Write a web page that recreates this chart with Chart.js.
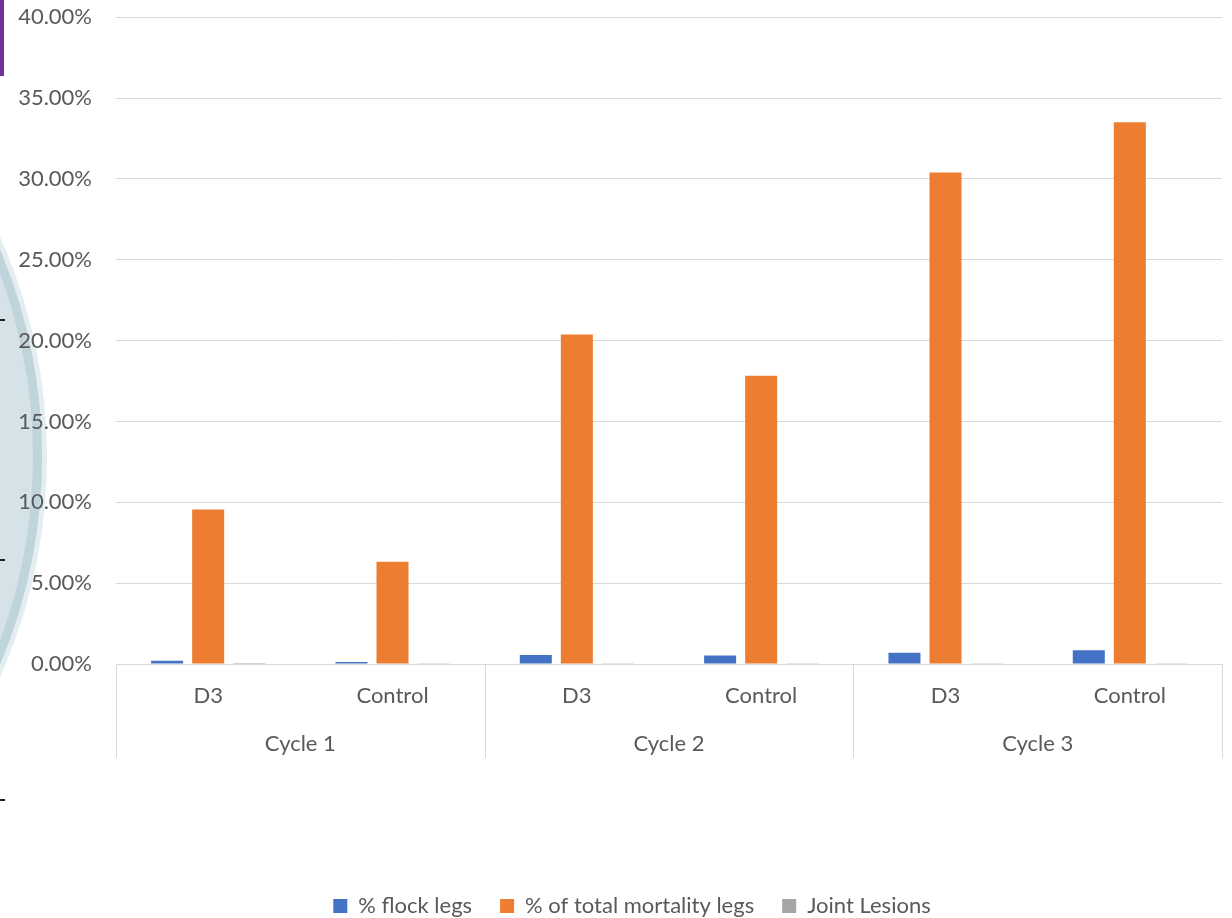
<!DOCTYPE html>
<html>
<head>
<meta charset="utf-8">
<script src="https://cdn.jsdelivr.net/npm/chart.js@4.4.1/dist/chart.umd.min.js"></script>
<style>
  html, body { margin: 0; padding: 0; background: #fff; }
  #wrap { position: relative; width: 1232px; height: 918px; overflow: hidden; }
  /* fond de diapositive derrière le graphique */
  .cercle { position: absolute; left: -1026px; top: -77px; width: 1068px; height: 1068px; border-radius: 50%;
            background: #d5e3e8; box-shadow: inset 0 0 0 9px #c0d4db, 0 0 0 5px #e4edf0; }
  .barre { position: absolute; left: 0; top: 0; width: 4px; height: 76px; background: #7030a0; }
  .tiret { position: absolute; left: 0; width: 5px; height: 2px; background: #222; }
  canvas { position: absolute; left: 0; top: -20px; }
</style>
</head>
<body>
<div id="wrap">
  <div class="cercle"></div>
  <div class="barre"></div>
  <div class="tiret" style="top:319px"></div>
  <div class="tiret" style="top:559px"></div>
  <div class="tiret" style="top:799px"></div>
  <canvas id="grafico" width="1232" height="947"></canvas>
</div>
<script>
// données
const categorias = ['D3', 'Control', 'D3', 'Control', 'D3', 'Control'];
const ciclos = ['Cycle 1', 'Cycle 2', 'Cycle 3'];
const flockLegs = [0.0020, 0.0013, 0.0056, 0.0052, 0.0070, 0.0085];
const mortalityLegs = [0.0955, 0.0632, 0.2037, 0.1783, 0.3040, 0.3350];
const jointLesions = [0.0006, 0.0002, 0.0002, 0.0002, 0.0002, 0.0002];
const yTicks = [0, 0.05, 0.10, 0.15, 0.20, 0.25, 0.30, 0.35, 0.40];

const corTexto = '#595959';
const corGrade = '#d9d9d9';
const fonte = { family: 'Lato', size: 22 };

// linhas separadoras entre os ciclos (eixo de categorias em dois níveis)
const separadores = {
  id: 'separadores',
  afterLayout(chart) {
    // legenda um pouco deslocada para a direita, como no original
    chart.legend.left += 42;
  },
  afterDraw(chart) {
    const x = chart.scales.x;
    const x2 = chart.scales.x2;
    const ctx = chart.ctx;
    const meia = (x.getPixelForValue(1) - x.getPixelForValue(0)) / 2;
    const topo = chart.chartArea.bottom;
    const fundo = x2.top + 42;
    ctx.save();
    ctx.strokeStyle = corGrade;
    ctx.lineWidth = 1;
    for (let i = 0; i <= categorias.length; i += 2) {
      const px = Math.round(x.getPixelForValue(Math.min(i, categorias.length - 1)) + (i === categorias.length ? meia : -meia)) + 0.5;
      ctx.beginPath();
      ctx.moveTo(px, topo);
      ctx.lineTo(px, fundo);
      ctx.stroke();
    }
    ctx.restore();
  }
};

new Chart(document.getElementById('grafico').getContext('2d'), {
  type: 'bar',
  data: {
    labels: categorias,
    datasets: [
      { label: '% flock legs', data: flockLegs, backgroundColor: '#4472c4' },
      { label: '% of total mortality legs', data: mortalityLegs, backgroundColor: '#ed7d31' },
      { label: 'Joint Lesions', data: jointLesions, backgroundColor: '#a5a5a5' }
    ]
  },
  options: {
    responsive: false,
    animation: false,
    categoryPercentage: 0.668,
    barPercentage: 0.78,
    layout: { padding: { top: -13, right: 10, left: 0, bottom: 0 } },
    scales: {
      y: {
        min: 0,
        max: 0.40,
        afterBuildTicks: (s) => { s.ticks = yTicks.map(v => ({ value: v })); },
        afterFit: (s) => { s.width = 116; },
        border: { display: false },
        grid: { color: corGrade, drawTicks: false },
        ticks: {
          color: corTexto,
          font: fonte,
          padding: 24,
          callback: (v) => (v * 100).toFixed(2) + '%'
        }
      },
      x: {
        border: { display: true, color: corGrade },
        grid: { display: false, drawTicks: false },
        ticks: { color: corTexto, font: fonte, padding: 19, maxRotation: 0 },
        afterFit: (s) => { s.height = 52; }
      },
      x2: {
        type: 'category',
        labels: ciclos,
        offset: true,
        position: 'bottom',
        border: { display: false },
        grid: { display: false, drawTicks: false },
        ticks: { color: corTexto, font: fonte, padding: 15, maxRotation: 0 },
        afterFit: (s) => { s.height = 151; }
      }
    },
    plugins: {
      legend: {
        position: 'bottom',
        labels: {
          color: corTexto,
          font: fonte,
          boxWidth: 14,
          boxHeight: 14,
          padding: 28
        }
      },
      tooltip: { enabled: false }
    }
  },
  plugins: [separadores]
});
</script>
</body>
</html>
